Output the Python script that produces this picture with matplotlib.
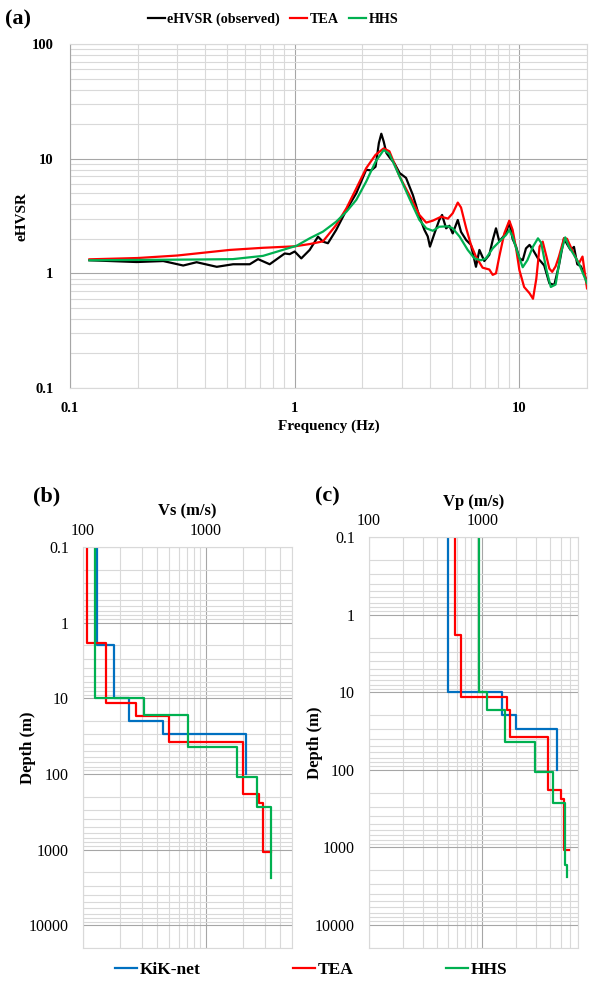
import matplotlib
matplotlib.use("Agg")
import matplotlib.pyplot as plt
from matplotlib.ticker import FixedLocator, FuncFormatter, NullFormatter
import numpy as np

plt.rcParams['font.family'] = ['Liberation Serif', 'DejaVu Serif']

# ---------------- data: panel (a) ----------------
obs_f = [0.122, 0.198, 0.26, 0.319, 0.366, 0.45, 0.532, 0.631, 0.687, 0.774, 0.903, 0.95, 1.0,
         1.07, 1.166, 1.27, 1.336, 1.406, 1.53, 1.70, 1.88, 2.08, 2.19, 2.29, 2.37, 2.43, 2.49,
         2.56, 2.64, 2.78, 2.93, 3.13, 3.36, 3.59, 3.78, 3.91, 4.0, 4.19, 4.4, 4.53, 4.72, 4.88,
         5.05, 5.32, 5.5, 5.8, 6.09, 6.41, 6.64, 6.98, 7.35, 7.61, 7.87, 8.14, 8.41, 8.72, 9.02,
         9.33, 9.67, 10.0, 10.35, 10.7, 11.1, 11.5, 12.1, 12.5, 12.9, 13.6, 14.3, 15.0, 15.8,
         16.3, 16.9, 17.5, 18.1, 18.8, 20.0]
obs_v = [1.30, 1.255, 1.28, 1.17, 1.25, 1.14, 1.2, 1.2, 1.33, 1.2, 1.49, 1.47, 1.55,
         1.35, 1.6, 2.09, 1.89, 1.83, 2.39, 3.57, 5.0, 8.0, 7.9, 8.5, 13.7, 16.5, 14.1,
         11.2, 10.3, 9.1, 7.5, 6.8, 4.8, 3.12, 2.39, 2.1, 1.71, 2.23, 2.92, 3.23, 2.47, 2.6,
         2.23, 2.92, 2.3, 1.95, 1.77, 1.14, 1.6, 1.28, 1.45, 1.95, 2.47, 1.9, 2.05, 2.23, 2.82,
         2.0, 1.71, 1.35, 1.3, 1.65, 1.77, 1.6, 1.35, 1.26, 1.17, 0.82, 0.79, 1.17, 2.02,
         1.8, 1.6, 1.7, 1.2, 1.15, 0.85]

tea_f = [0.122, 0.2, 0.3, 0.514, 0.723, 1.0, 1.166, 1.336, 1.53, 1.70, 1.88, 2.08, 2.29, 2.49,
         2.64, 2.93, 3.24, 3.59, 3.85, 4.12, 4.49, 4.81, 5.05, 5.32, 5.5, 5.8, 6.09, 6.41, 6.86,
         7.35, 7.61, 7.87, 8.14, 8.57, 9.02, 9.33, 9.67, 10.0, 10.5, 11.1, 11.5, 11.9, 12.3,
         12.7, 13.2, 13.6, 14.0, 14.5, 15.0, 15.8, 16.3, 17.3, 17.7, 18.4, 19.1, 20.0]
tea_v = [1.325, 1.36, 1.43, 1.6, 1.67, 1.72, 1.8, 1.9, 2.64, 3.7, 5.5, 8.25, 10.8, 12.3,
         11.6, 7.0, 4.8, 3.23, 2.77, 2.88, 3.12, 3.0, 3.34, 4.14, 3.75, 2.47, 1.77, 1.4, 1.12,
         1.08, 0.97, 1.0, 1.4, 2.23, 2.88, 2.4, 1.65, 1.07, 0.76, 0.67, 0.6, 0.9, 1.71,
         1.89, 1.4, 1.1, 1.03, 1.15, 1.4, 2.02, 2.0, 1.55, 1.4, 1.22, 1.4, 0.74]

hhs_f = [0.122, 0.366, 0.53, 0.723, 1.02, 1.166, 1.336, 1.53, 1.70, 1.88, 2.08, 2.29, 2.49,
         2.64, 2.93, 3.24, 3.59, 3.85, 4.12, 4.4, 4.81, 5.05, 5.42, 5.89, 6.31, 6.75, 7.1,
         7.61, 8.14, 8.72, 9.02, 9.33, 9.83, 10.35, 10.85, 11.5, 12.1, 12.5, 13.2, 13.8,
         14.5, 15.3, 16.0, 16.6, 17.5, 18.4, 20.0]
hhs_v = [1.30, 1.32, 1.33, 1.42, 1.74, 2.02, 2.31, 2.82, 3.45, 4.37, 6.3, 9.4, 11.9,
         11.0, 7.0, 4.5, 2.92, 2.47, 2.35, 2.55, 2.57, 2.47, 2.09, 1.6, 1.35, 1.3, 1.35,
         1.65, 1.89, 2.16, 2.39, 2.09, 1.5, 1.13, 1.3, 1.71, 2.02, 1.85, 1.07, 0.76,
         0.8, 1.5, 2.06, 1.71, 1.45, 1.22, 0.82]

# ---------------- data: panels (b), (c) ----------------
kik_top = [0.1, 2, 10, 20, 30]
kik_bot = [2, 10, 20, 30, 100]
kik_vs = [131, 180, 238, 450, 2100]
kik_vp = [500, 500, 1480, 1970, 4600]

tea_top = [0.1, 1.85, 11.5, 17, 37.5, 182, 242, 1090]
tea_bot = [1.85, 11.5, 17, 37.5, 182, 242, 1090, 1090]
tea_vs = [108, 155, 271, 497, 2000, 2715, 2925, 3350]
tea_vp = [574, 644, 1640, 1766, 3822, 4977, 5250, 5820]

hhs_top = [0.1, 10, 16.8, 44.5, 109, 270, 1714]
hhs_bot = [10, 16.8, 44.5, 109, 270, 1714, 2400]
hhs_vs = [126, 315, 710, 1786, 2600, 3350, 3350]
hhs_vp = [929, 1107, 1596, 2935, 4202, 5327, 5625]

C_BLUE = '#0070C0'
C_RED = '#FF0000'
C_GREEN = '#00B050'
MAJ = '#a6a6a6'
MIN = '#d9d9d9'

W, H = 589, 988
fig = plt.figure(figsize=(W / 100, H / 100), dpi=100)


def rect(l, t, r, b):
    return [l / W, 1 - b / H, (r - l) / W, (b - t) / H]


def fx(x):
    return x / W


def fy(y):
    return 1 - y / H


fmt_g = FuncFormatter(lambda v, p: '%g' % v)

# ---------------- panel (a) ----------------
ax = fig.add_axes(rect(70, 44, 587, 388))
ax.set_xscale('log')
ax.set_yscale('log')
ax.set_xlim(0.1, 20)
ax.set_ylim(0.1, 100)
ax.xaxis.set_major_locator(FixedLocator([0.1, 1, 10]))
ax.yaxis.set_major_locator(FixedLocator([0.1, 1, 10, 100]))
ax.xaxis.set_minor_locator(FixedLocator([k * 10.0 ** e for e in (-1, 0, 1) for k in range(2, 10)]))
ax.yaxis.set_minor_locator(FixedLocator([k * 10.0 ** e for e in (-1, 0, 1) for k in range(2, 10)]))
ax.xaxis.set_major_formatter(fmt_g)
ax.yaxis.set_major_formatter(fmt_g)
ax.xaxis.set_minor_formatter(NullFormatter())
ax.yaxis.set_minor_formatter(NullFormatter())
ax.grid(True, which='major', color=MAJ, lw=0.8)
ax.grid(True, which='minor', color=MIN, lw=0.8)
ax.set_axisbelow(True)
ax.tick_params(which='both', length=0)
ax.tick_params(axis='x', pad=10, labelsize=10.5)
ax.tick_params(axis='y', pad=12, labelsize=10.5)
for lab in ax.get_xticklabels() + ax.get_yticklabels():
    lab.set_fontweight('bold')
for s in ax.spines.values():
    s.set_color(MIN)
    s.set_linewidth(0.8)
ax.spines['left'].set_color(MAJ)

l1, = ax.plot(obs_f, obs_v, color='black', lw=1.6, label='eHVSR (observed)')
l2, = ax.plot(tea_f, tea_v, color=C_RED, lw=1.6, label='TEA')
l3, = ax.plot(hhs_f, hhs_v, color=C_GREEN, lw=1.6, label='HHS')
ax.set_xlabel('Frequency (Hz)', fontsize=11, fontweight='bold', labelpad=3)
ax.set_ylabel('eHVSR', fontsize=11, fontweight='bold')
ax.yaxis.set_label_coords((29 - 70) / 517, 0.5)

fig.legend(handles=[l1, l2, l3], loc='center', bbox_to_anchor=(fx(273), fy(19)), ncol=3,
           frameon=False, prop={'weight': 'bold', 'size': 10.2}, handlelength=1.2,
           handletextpad=0.15, columnspacing=0.75, borderaxespad=0)

fig.text(fx(5), fy(19), '(a)', fontsize=16, fontweight='bold', va='center', ha='left')


# ---------------- panels (b), (c) ----------------
def profile(axp, tops, bots, vel, color):
    xs, ys = [], []
    for t, b, v in zip(tops, bots, vel):
        xs += [v, v]
        ys += [t, b]
    axp.plot(xs, ys, color=color, lw=1.6)


def setup_profile(axp, xmax):
    axp.set_xscale('log')
    axp.set_yscale('log')
    axp.set_xlim(100, xmax)
    axp.set_ylim(20000, 0.1)
    axp.xaxis.tick_top()
    axp.xaxis.set_label_position('top')
    axp.xaxis.set_major_locator(FixedLocator([100, 1000]))
    axp.xaxis.set_minor_locator(FixedLocator([k * 10.0 ** e for e in (2, 3) for k in range(2, 10)]))
    axp.yaxis.set_major_locator(FixedLocator([0.1, 1, 10, 100, 1000, 10000]))
    axp.yaxis.set_minor_locator(FixedLocator([k * 10.0 ** e for e in (-1, 0, 1, 2, 3, 4) for k in range(2, 10)]))
    axp.xaxis.set_major_formatter(fmt_g)
    axp.yaxis.set_major_formatter(fmt_g)
    axp.xaxis.set_minor_formatter(NullFormatter())
    axp.yaxis.set_minor_formatter(NullFormatter())
    axp.grid(True, which='major', color=MAJ, lw=0.8)
    axp.grid(True, which='minor', color=MIN, lw=0.8)
    axp.set_axisbelow(True)
    axp.tick_params(which='both', length=0, labelsize=11.5)
    axp.tick_params(axis='x', pad=6)
    axp.tick_params(axis='y', pad=10)
    for s in axp.spines.values():
        s.set_color(MIN)
        s.set_linewidth(0.8)


axb = fig.add_axes(rect(83, 547, 292, 948))
setup_profile(axb, 5000)
profile(axb, kik_top, kik_bot, kik_vs, C_BLUE)
profile(axb, tea_top, tea_bot, tea_vs, C_RED)
profile(axb, hhs_top, hhs_bot, hhs_vs, C_GREEN)
axb.set_xlabel('Vs (m/s)', fontsize=12, fontweight='bold', labelpad=5)
axb.set_ylabel('Depth (m)', fontsize=12, fontweight='bold')
axb.yaxis.set_label_coords((36 - 83) / 209, 0.5)
fig.text(fx(33), fy(496), '(b)', fontsize=16, fontweight='bold', va='center', ha='left')

axc = fig.add_axes(rect(369, 537, 578, 948))
setup_profile(axc, 7000)
profile(axc, kik_top, kik_bot, kik_vp, C_BLUE)
profile(axc, tea_top, tea_bot, tea_vp, C_RED)
profile(axc, hhs_top, hhs_bot, hhs_vp, C_GREEN)
axc.set_xlabel('Vp (m/s)', fontsize=12, fontweight='bold', labelpad=5)
axc.set_ylabel('Depth (m)', fontsize=12, fontweight='bold')
axc.yaxis.set_label_coords((323 - 369) / 209, 0.5)
fig.text(fx(315), fy(496), '(c)', fontsize=16, fontweight='bold', va='center', ha='left')

hb = [plt.Line2D([], [], color=C_BLUE, lw=1.6, label='KiK-net'),
      plt.Line2D([], [], color=C_RED, lw=1.6, label='TEA'),
      plt.Line2D([], [], color=C_GREEN, lw=1.6, label='HHS')]
fig.legend(handles=hb, loc='center', bbox_to_anchor=(fx(311), fy(970)), ncol=3, frameon=False,
           prop={'weight': 'bold', 'size': 12.5}, handlelength=1.3, handletextpad=0.15,
           columnspacing=5.3, borderaxespad=0)

fig.savefig('out.png', dpi=100)
